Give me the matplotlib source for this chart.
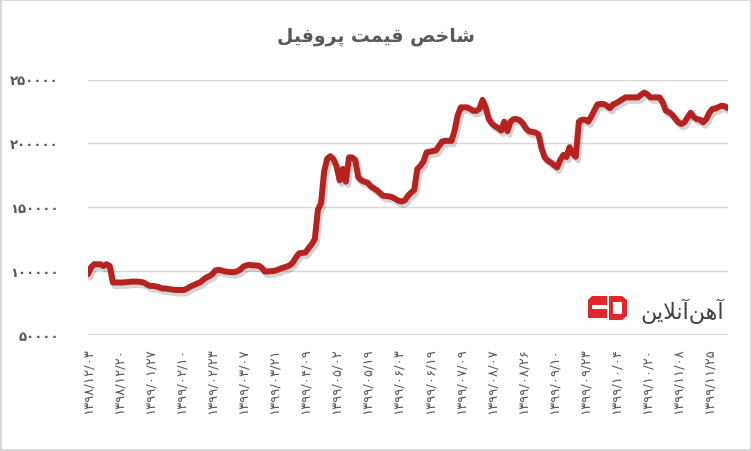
import numpy as np
import matplotlib
matplotlib.use("Agg")
import matplotlib.pyplot as plt
import matplotlib.patheffects as pe
from matplotlib.patches import Polygon, Rectangle

# شاخص قیمت پروفیل (هزار)
shakhes_k = [
    97.6, 103, 105.4, 105.4, 105.4, 104, 105.4, 104, 91.1, 91.1,
    91.1, 91.1, 91.3, 91.5, 91.8, 91.8, 91.8, 91.5, 91, 89.5,
    88.4, 88.4, 88, 87.2, 86.4, 86.4, 86, 85.6, 85.3, 85.2,
    85.2, 85.3, 86.5, 88, 89, 90.2, 91.1, 93, 95, 96,
    97.6, 100.5, 101, 100.5, 99.8, 99.5, 99.2, 99.2, 99.8, 101.2,
    103.5, 104.5, 105, 104.5, 104.5, 104.2, 102.5, 99.6, 99.8, 100,
    100.2, 101, 102, 102.8, 103.6, 104.6, 107, 111, 114, 114.3,
    114.6, 118, 121, 125, 148, 153, 178, 188, 190, 187.7,
    182, 171, 180, 170, 189, 189, 187, 173.4, 171, 170,
    169.2, 166.5, 164.8, 163.3, 161, 159, 158.7, 158.5, 157.8, 156.4,
    155, 154.5, 155.5, 159, 161.5, 163.5, 180, 182.4, 186, 193,
    193.5, 194, 194.5, 198, 201.5, 202, 202, 202, 210, 222,
    228.2, 228.2, 228.2, 227, 225.5, 225.5, 227, 234, 228, 219,
    215.5, 213.5, 212, 210, 217, 209.5, 217, 219, 219, 218,
    215.5, 211.5, 209.5, 209, 208.5, 207, 196, 189, 186.5, 185,
    183, 181.2, 187, 191, 189.3, 197, 192, 189.5, 217, 218.5,
    218.5, 217, 221, 226, 230.5, 230.8, 230.8, 229.5, 227.5, 230.5,
    231.5, 233, 234.5, 236, 236, 236, 236, 236, 238, 239.8,
    238.5, 236, 236, 236, 236, 232, 225.5, 224.5, 222.5, 219.5,
    216.5, 215.1, 216.5, 220.5, 224, 220.5, 219, 218.5, 216.5, 219,
    224, 227, 227.3, 228.5, 229.5, 229, 227.5,
]

tarikh = [
    "۱۳۹۸/۱۲/۰۳", "۱۳۹۸/۱۲/۲۰", "۱۳۹۹/۰۱/۲۷", "۱۳۹۹/۰۲/۱۰", "۱۳۹۹/۰۲/۲۳",
    "۱۳۹۹/۰۳/۰۷", "۱۳۹۹/۰۳/۲۱", "۱۳۹۹/۰۴/۰۹", "۱۳۹۹/۰۵/۰۲", "۱۳۹۹/۰۵/۱۹",
    "۱۳۹۹/۰۶/۰۳", "۱۳۹۹/۰۶/۱۹", "۱۳۹۹/۰۷/۰۹", "۱۳۹۹/۰۸/۰۷", "۱۳۹۹/۰۸/۲۶",
    "۱۳۹۹/۰۹/۱۰", "۱۳۹۹/۰۹/۲۳", "۱۳۹۹/۱۰/۰۴", "۱۳۹۹/۱۰/۲۰", "۱۳۹۹/۱۱/۰۸",
    "۱۳۹۹/۱۱/۲۵",
]
tick_step = 10

y_ticks = [50000, 100000, 150000, 200000, 250000]
y_labels = ["۵۰۰۰۰", "۱۰۰۰۰۰", "۱۵۰۰۰۰", "۲۰۰۰۰۰", "۲۵۰۰۰۰"]

# متن فارسی به صورت شکل‌های نمایشی و ترتیب دیداری
onvan = "\uFEDE\uFBFF\uFED3\uFEED\uFEAE\uFB58 \uFE96\uFEE4\uFBFF\uFED7 \uFEBA\uFEA7\uFE8E\uFEB7"
logo_matn = "\uFEE6\uFBFE\uFEFC\uFEE7\uFE81\uFEE6\uFEEB\uFE81"

W, H = 752, 452
fig = plt.figure(figsize=(W / 100, H / 100), dpi=100)
fig.patch.set_facecolor("white")

ax = fig.add_axes([88 / W, 1 - 336 / H, 640 / W, 255.5 / H])
y = np.array(shakhes_k) * 1000
x = np.arange(len(y))
ax.plot(x, y, color="#b5221f", lw=4.3, solid_joinstyle="round", solid_capstyle="round",
        path_effects=[pe.SimpleLineShadow(offset=(1.5, -2.5), shadow_color="#555555", alpha=0.25),
                      pe.Normal()], zorder=3)

ax.set_xlim(0, len(y) - 1)
ax.set_ylim(50000, 250000)
ax.set_yticks(y_ticks)
ax.set_yticklabels(y_labels, fontsize=9.5, fontweight="bold", color="#595959")
ax.set_xticks(np.arange(0, len(y), tick_step))
ax.set_xticklabels(tarikh, rotation=90, fontsize=9.5, color="#595959")
ax.tick_params(length=0)
ax.tick_params(axis="y", pad=21)
ax.tick_params(axis="x", pad=9)
ax.grid(axis="y", color="#d9d9d9", lw=1)
ax.set_axisbelow(True)
for s in ax.spines.values():
    s.set_visible(False)
ax.axhline(50000, color="#d9d9d9", lw=1.5, zorder=1)

# لایه رویی برای عنوان، لوگو و قاب
ov = fig.add_axes([0, 0, 1, 1], zorder=5)
ov.set_xlim(0, W)
ov.set_ylim(H, 0)
ov.axis("off")
ov.patch.set_alpha(0)

ov.text(376, 37, onvan, ha="center", va="center", fontsize=13.5, fontweight="bold", color="#595959")

red = "#e3262c"
ov.add_patch(Polygon([(588, 301), (592, 297), (607, 297), (607, 319), (588, 319)], closed=True,
                     facecolor=red, edgecolor="none"))
ov.add_patch(Rectangle((592, 306), 15, 4, facecolor="white", edgecolor="none"))
ov.add_patch(Polygon([(609, 297), (622, 297), (627, 301), (627, 317), (622, 321), (609, 321)], closed=True,
                     facecolor=red, edgecolor="none"))
ov.add_patch(Rectangle((613, 303), 9, 12, facecolor="white", edgecolor="none"))
ov.text(682, 311, logo_matn, ha="center", va="center", fontsize=16, color="#404040")

ov.add_patch(Rectangle((0.5, 0.5), W - 2, H - 2, facecolor="none", edgecolor="#d9d9d9", lw=1.5))

fig.savefig("out.png", dpi=100)
